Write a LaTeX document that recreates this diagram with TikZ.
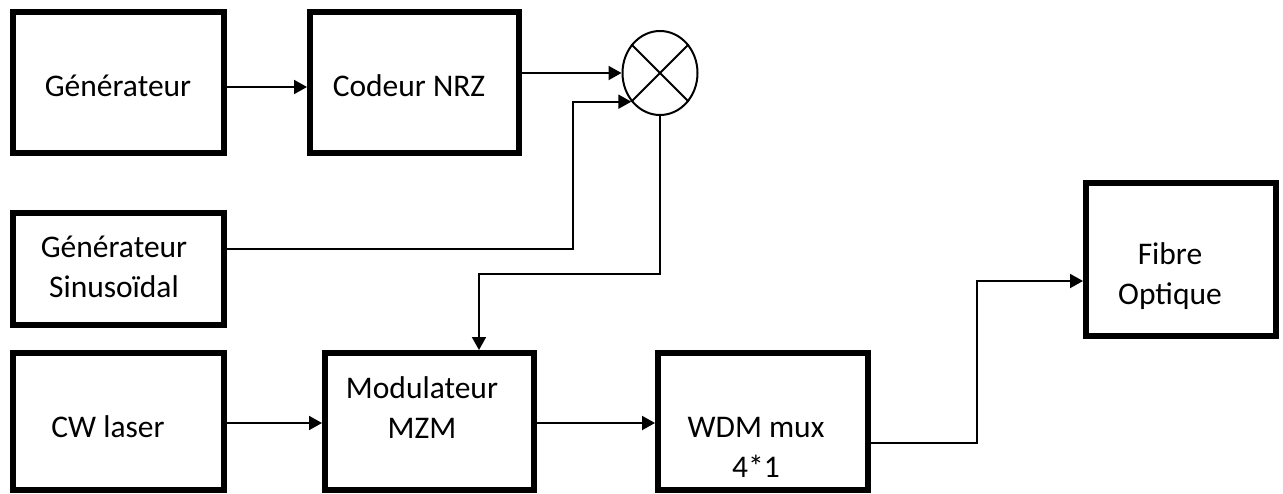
\documentclass[tikz,border=0pt]{standalone}
\usepackage{fontspec}
\setmainfont{Carlito}
\usetikzlibrary{arrows.meta,shapes.geometric}
\begin{document}
\begin{tikzpicture}[x=1pt,y=-1pt,
  box/.style={draw, line width=6pt, inner sep=0pt},
  txt/.style={font=\fontsize{31.5}{40}\selectfont, align=center, inner sep=0pt},
  conn/.style={line width=2pt, -{Triangle[length=13pt,width=14pt]}},
  wire/.style={line width=2pt}]
\useasboundingbox (0,0) rectangle (1283,493);
% boxes
\node[box, minimum width=211, minimum height=141] (gen) at (118.5,82.5) {};
\node[txt] (genT) at (118,86) {Générateur};
\node[box, minimum width=209, minimum height=141] (cod) at (414.5,82.5) {};
\node[txt] (codT) at (409,86) {Codeur NRZ};
\node[box, minimum width=211, minimum height=112] (sin) at (118.5,269) {};
\node[txt] (sinT) at (114,267) {Générateur\\Sinusoïdal};
\node[box, minimum width=211, minimum height=137] (cw) at (118.5,421.5) {};
\node[txt] (cwT) at (108,427) {CW laser};
\node[box, minimum width=209, minimum height=137] (mzm) at (429.5,421.5) {};
\node[txt] (mzmT) at (422,408) {Modulateur\\MZM};
\node[box, minimum width=210, minimum height=137] (wdm) at (763,421.5) {};
\node[txt] (wdmT) at (756,447) {WDM mux\\4*1};
\node[box, minimum width=190, minimum height=153] (fib) at (1181,259.5) {};
\node[txt] (fibT) at (1170,276) {Fibre\\Optique};
% mixer
\node[draw, ellipse, line width=2pt, minimum width=75, minimum height=84, inner sep=0pt] (mix) at (660,73) {};
\draw[wire] (mix.45) -- (mix.225);
\draw[wire] (mix.135) -- (mix.315);
% connectors
\coordinate (b1) at (573,249);
\coordinate (b2) at (479,274);
\coordinate (b3) at (977,281);
\draw[conn] (gen.east |- 0,87) -- (cod.west |- 0,87);
\draw[conn] (cod.east |- mix.west) -- (mix.west);
\draw[conn] (sin.east |- b1) -- (b1) |- (mix.225);
\draw[conn] (mix.south) |- (b2) -- (mzm.north -| b2);
\draw[conn] (cw.east |- 0,423) -- (mzm.west |- 0,423);
\draw[conn] (mzm.east |- 0,423) -- (wdm.west |- 0,423);
\draw[conn] (wdm.east |- 0,443) -| (b3) -- (fib.west |- b3);
\end{tikzpicture}
\end{document}
